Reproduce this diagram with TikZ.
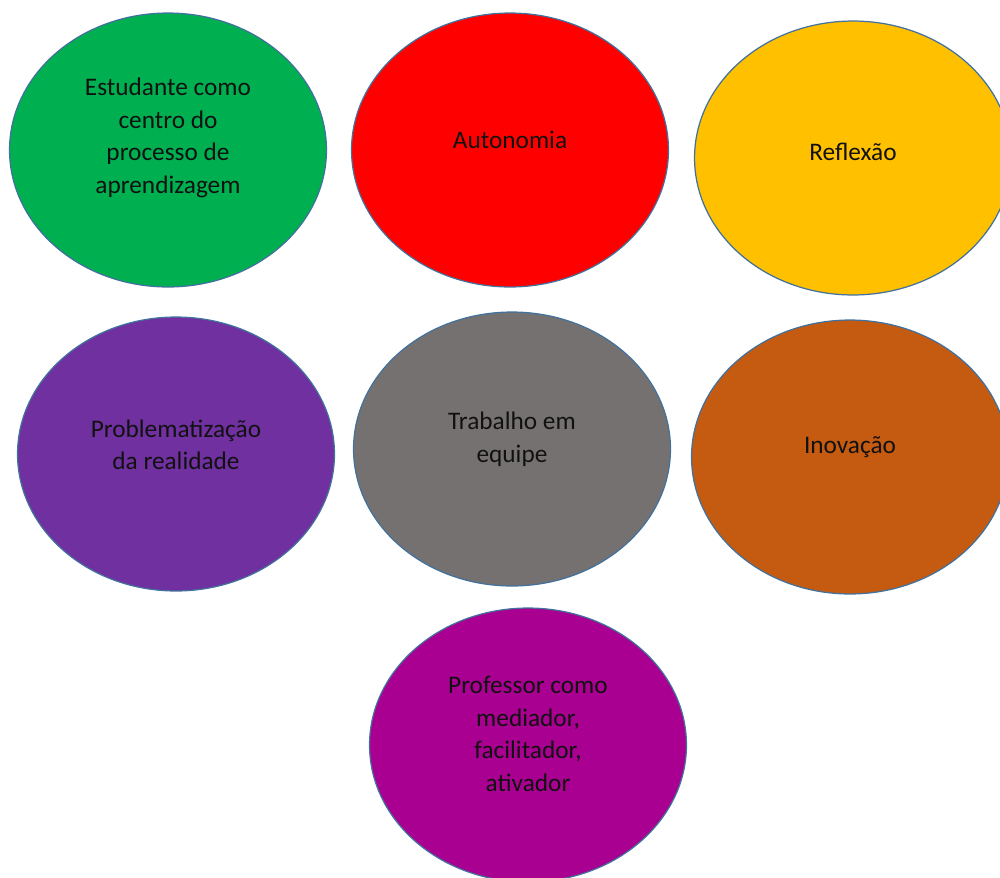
\documentclass[tikz,border=0pt]{standalone}
\usepackage{fontspec}
\setmainfont{Carlito}
\usetikzlibrary{shapes.geometric}

\definecolor{bubblegreen}{HTML}{00B050}
\definecolor{bubblered}{HTML}{FF0000}
\definecolor{bubbleyellow}{HTML}{FFC000}
\definecolor{bubblepurple}{HTML}{7030A0}
\definecolor{bubblegray}{HTML}{767171}
\definecolor{bubbleorange}{HTML}{C55A11}
\definecolor{bubblemagenta}{HTML}{AA0092}
\definecolor{bubbleline}{HTML}{41719C}
\definecolor{bubbletext}{HTML}{111111}

\tikzset{bubble/.style = {ellipse, draw = bubbleline, line width = 0.7pt,
                          minimum width = 6.34cm, minimum height = 5.48cm, inner sep = 0pt},
         caption/.style = {align = center, text = bubbletext,
                           font = \fontsize{14.4}{18.5}\selectfont}}

\begin{document}
\begin{tikzpicture}[x = 0.02cm, y = -0.02cm]

\useasboundingbox (0,0) rectangle (1000,877);
\clip (0,0) rectangle (1000,877);

% top row
\node[bubble, fill = bubblegreen]  (estudante) at (168,150) {};
\node[bubble, fill = bubblered]    (autonomia) at (510,150) {};
\node[bubble, fill = bubbleyellow] (reflexao)  at (853,158) {};

% middle row
\node[bubble, fill = bubblepurple] (problema) at (176,454) {};
\node[bubble, fill = bubblegray]   (trabalho) at (512,449) {};
\node[bubble, fill = bubbleorange] (inovacao) at (850,457) {};

% bottom
\node[bubble, fill = bubblemagenta] (professor) at (528,745) {};

% texts, a little above the centres
\node[caption] (t-estudante) at ([yshift=0.24cm]estudante.center) {Estudante como\\ centro do\\ processo de\\ aprendizagem};
\node[caption] (t-autonomia) at ([yshift=0.2cm]autonomia.center) {Autonomia};
\node[caption] (t-reflexao)  at ([yshift=0.12cm]reflexao.center) {Reflexão};
\node[caption] (t-problema)  at ([yshift=0.18cm]problema.center) {Problematização\\ da realidade};
\node[caption] (t-trabalho)  at ([yshift=0.2cm]trabalho.center) {Trabalho em\\ equipe};
\node[caption] (t-inovacao)  at ([yshift=0.2cm]inovacao.center) {Inovação};
\node[caption] (t-professor) at ([yshift=0.22cm]professor.center) {Professor como\\ mediador,\\ facilitador,\\ ativador};

\end{tikzpicture}
\end{document}
